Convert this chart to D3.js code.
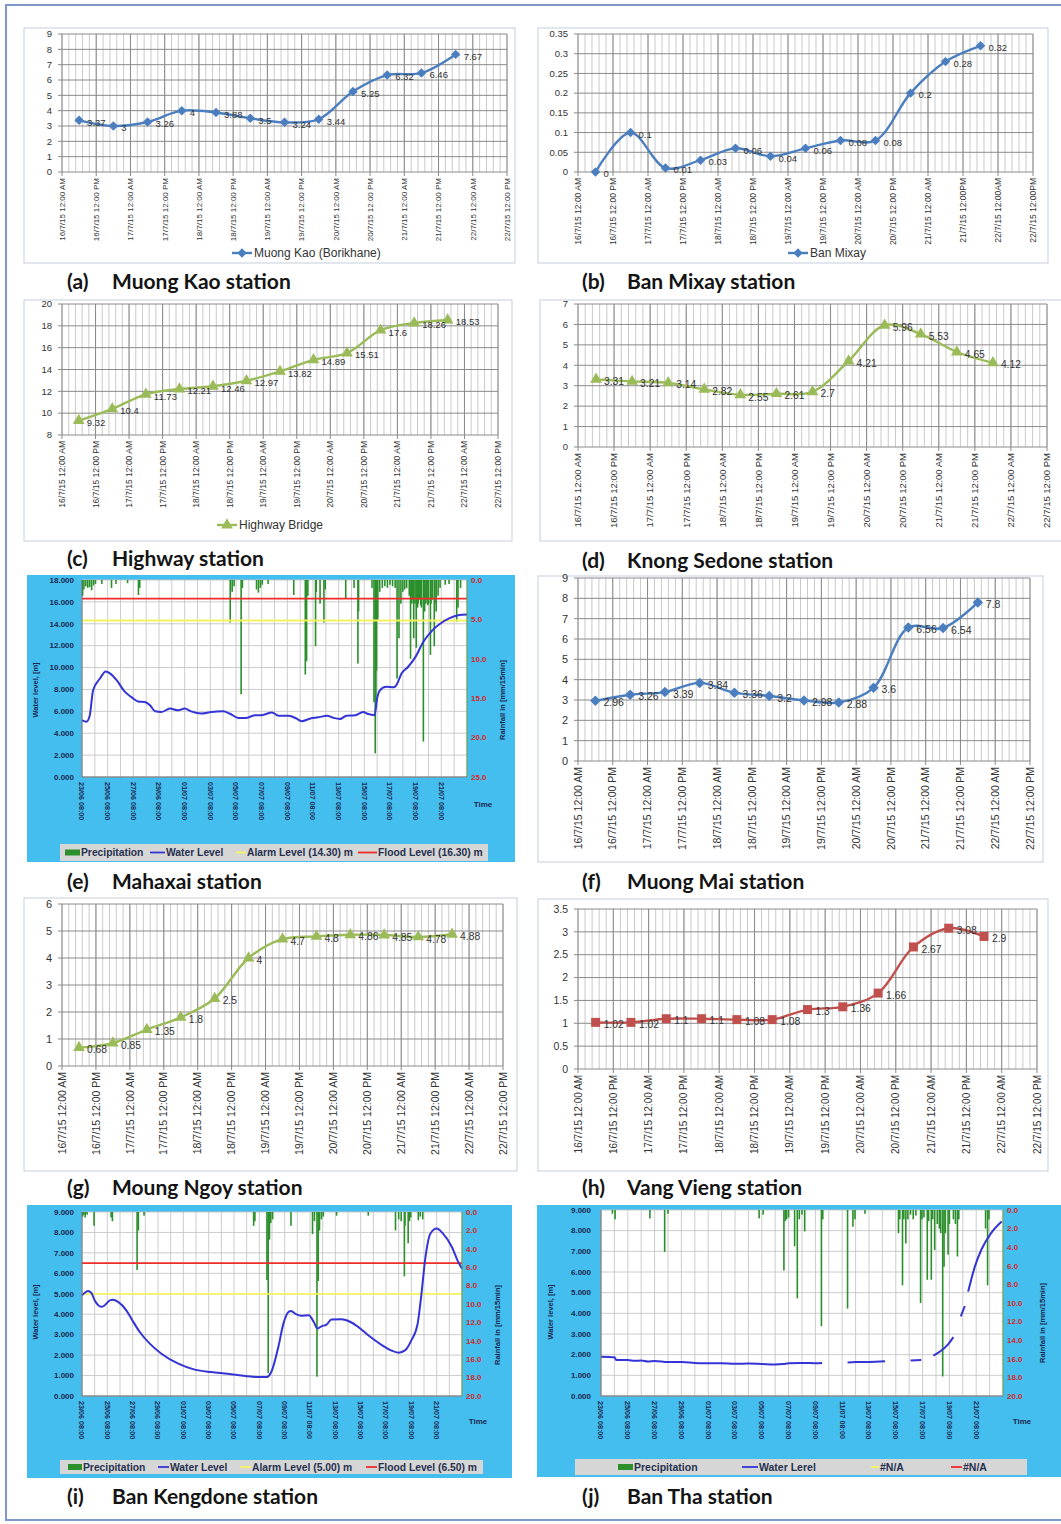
<!DOCTYPE html>
<html>
<head>
<meta charset="utf-8">
<script src="https://cdn.jsdelivr.net/npm/d3@7"></script>
<style>
  body { margin: 0; background: #fff; }
  text { font-family: "Liberation Sans", Arial, sans-serif; }
</style>
</head>
<body>
<div id="fig"></div>
<script>
// ---- time axis of the station charts (hours from 16/7/15 12:00 AM)
const tickHours = [0, 12, 24, 36, 48, 60, 72, 84, 96, 108, 120, 132, 144, 156];
const tickLabels = [
  "16/7/15 12:00 AM", "16/7/15 12:00 PM", "17/7/15 12:00 AM", "17/7/15 12:00 PM",
  "18/7/15 12:00 AM", "18/7/15 12:00 PM", "19/7/15 12:00 AM", "19/7/15 12:00 PM",
  "20/7/15 12:00 AM", "20/7/15 12:00 PM", "21/7/15 12:00 AM", "21/7/15 12:00 PM",
  "22/7/15 12:00 AM", "22/7/15 12:00 PM"
];
const tickLabelsB = [
  "16/7/15 12:00 AM", "16/7/15 12:00 PM", "17/7/15 12:00 AM", "17/7/15 12:00 PM",
  "18/7/15 12:00 AM", "18/7/15 12:00 PM", "19/7/15 12:00 AM", "19/7/15 12:00 PM",
  "20/7/15 12:00 AM", "20/7/15 12:00 PM", "21/7/15 12:00 AM", "21/7/15 12:00PM",
  "22/7/15 12:00AM", "22/7/15 12:00PM"
];
const obsHours = [6, 18, 30, 42, 54, 66, 78, 90, 102, 114, 126, 138];

// ---- water levels per station
const muongKao = [3.37, 3, 3.26, 4, 3.88, 3.5, 3.24, 3.44, 5.25, 6.32, 6.46, 7.67];
const banMixay = [0, 0.1, 0.01, 0.03, 0.06, 0.04, 0.06, 0.08, 0.08, 0.2, 0.28, 0.32];
const highway = [9.32, 10.4, 11.73, 12.21, 12.46, 12.97, 13.82, 14.89, 15.51, 17.6, 18.26, 18.53];
const knongSedone = [3.31, 3.21, 3.14, 2.82, 2.55, 2.61, 2.7, 4.21, 5.96, 5.53, 4.65, 4.12];
const muongMai = [2.96, 3.26, 3.39, 3.84, 3.36, 3.2, 2.98, 2.88, 3.6, 6.56, 6.54, 7.8];
const moungNgoy = [0.68, 0.85, 1.35, 1.8, 2.5, 4, 4.7, 4.8, 4.86, 4.85, 4.78, 4.88];
const vangVieng = [1.02, 1.02, 1.1, 1.1, 1.08, 1.08, 1.3, 1.36, 1.66, 2.67, 3.08, 2.9];

// ---- hydrograph time axis (days from 23/06 08:00)
const hydroTickDays = [0, 2, 4, 6, 8, 10, 12, 14, 16, 18, 20, 22, 24, 26, 28];
const hydroTickLabels = [
  "23/06 08:00", "25/06 08:00", "27/06 08:00", "29/06 08:00", "01/07 08:00",
  "03/07 08:00", "05/07 08:00", "07/07 08:00", "09/07 08:00", "11/07 08:00",
  "13/07 08:00", "15/07 08:00", "17/07 08:00", "19/07 08:00", "21/07 08:00"
];

// Mahaxai: [day, m] and rain [day, mm/15min]
const mahaxaiLevel = [
  [0, 5.2], [0.34, 5.05], [0.6, 5.6], [0.86, 7.9], [1.4, 9.0], [1.85, 9.65], [2.2, 9.45],
  [2.7, 8.85], [3.33, 7.8], [3.85, 7.3], [4.37, 6.9], [4.9, 6.85], [5.3, 6.55], [5.7, 6.0],
  [6.2, 5.95], [6.85, 6.25], [7.5, 6.1], [8.0, 6.25], [8.5, 6.0], [9.3, 5.8], [10.1, 5.95],
  [11, 6.0], [11.5, 5.8], [12.2, 5.4], [12.8, 5.4], [13.5, 5.65], [14, 5.65], [14.8, 5.9],
  [15.3, 5.6], [16.1, 5.6], [16.7, 5.35], [17.1, 5.1], [17.8, 5.35], [18.4, 5.45], [19.1, 5.6],
  [19.6, 5.4], [20.1, 5.3], [20.6, 5.6], [21.3, 5.65], [21.9, 5.95], [22.3, 5.75], [22.8, 5.65],
  [23.0, 7.2], [23.2, 7.9], [23.7, 8.25], [24.3, 8.2], [24.5, 8.4], [24.9, 9.45], [25.4, 10.05],
  [26, 11.0], [26.6, 12.35], [27.3, 13.4], [27.9, 14.0], [28.6, 14.5], [29.4, 14.8], [30, 14.85]
];
const mahaxaiRain = [
  [0.05, 2.0], [0.15, 1.2], [0.3, 0.8], [0.45, 1.0], [0.6, 0.9], [0.75, 1.3], [0.9, 0.7], [1.05, 0.5],
  [1.55, 0.5], [2.3, 1.0], [2.65, 0.5], [3.55, 0.4], [4.4, 1.9], [4.5, 1.0],
  [11.55, 5.4], [11.7, 1.5], [11.85, 0.8], [12.4, 14.5], [12.5, 1.0],
  [13.6, 1.2], [13.75, 1.6], [13.9, 1.0], [14.05, 0.6], [14.5, 0.5],
  [16.5, 1.9], [17.4, 12.0], [17.5, 10.3], [17.6, 2.0], [18.2, 8.4], [18.25, 1.5], [18.55, 3.0],
  [18.85, 5.4], [18.95, 1.2], [20.55, 2.3], [21.2, 1.0], [21.5, 10.6], [21.55, 4.0], [22.6, 1.0],
  [22.75, 15.5], [22.85, 22.0], [22.9, 16.0], [22.95, 11.5], [23.05, 5.0], [23.2, 1.5], [23.4, 1.0],
  [23.6, 0.8], [23.8, 1.0], [24.0, 0.6], [24.2, 0.8], [24.4, 1.0], [24.55, 12.5], [24.7, 7.4],
  [24.85, 3.0], [25.0, 1.5], [25.15, 1.2], [25.3, 1.0], [25.5, 2.0], [25.6, 10.0], [25.7, 3.0],
  [25.75, 2.5], [25.85, 7.4], [25.95, 3.0], [26.05, 8.6], [26.15, 3.5], [26.2, 3.0], [26.3, 2.5],
  [26.4, 3.2], [26.45, 3.5], [26.6, 20.5], [26.7, 4.0], [26.8, 3.0], [26.85, 2.5], [26.95, 3.2],
  [27.0, 3.0], [27.15, 9.5], [27.2, 3.0], [27.3, 2.5], [27.45, 8.4], [27.5, 3.0], [27.6, 4.0],
  [27.75, 2.0], [27.9, 1.0], [28.3, 0.6], [28.6, 0.5], [29.2, 5.3], [29.3, 3.5], [29.5, 1.0]
];

// Ban Kengdone
const kengdoneLevel = [
  [0, 4.93], [0.2, 5.04], [0.47, 5.14], [0.74, 5.04], [1.0, 4.68], [1.53, 4.36], [1.8, 4.44],
  [2.2, 4.68], [2.45, 4.71], [2.85, 4.6], [3.5, 4.19], [3.9, 3.78], [4.56, 3.13], [5.35, 2.56],
  [6.27, 2.07], [7.6, 1.58], [8.9, 1.29], [10.2, 1.17], [11.5, 1.09], [12.9, 0.98], [13.9, 0.93],
  [14.6, 0.93], [15.0, 1.26], [15.5, 2.4], [15.9, 3.54], [16.3, 4.11], [16.5, 4.16], [16.9, 4.0],
  [17.3, 3.92], [17.9, 3.95], [18.3, 3.62], [18.6, 3.3], [18.9, 3.41], [19.3, 3.49], [19.7, 3.74],
  [20.5, 3.75], [21.2, 3.62], [21.8, 3.38], [22.6, 2.97], [23.7, 2.48], [24.4, 2.23], [25.0, 2.12],
  [25.5, 2.23], [26.0, 2.72], [26.5, 3.54], [26.8, 5.0], [27.1, 6.72], [27.5, 7.94], [28.0, 8.19],
  [28.5, 7.94], [29.2, 7.29], [29.7, 6.56], [30, 6.23]
];
const kengdoneRain = [
  [0.05, 0.5], [0.15, 0.3], [0.25, 0.6], [0.4, 0.3], [0.95, 1.5], [2.3, 0.6], [2.4, 1.0],
  [4.35, 6.3], [4.45, 2.0], [4.9, 0.4], [13.55, 1.5], [13.65, 1.0], [14.6, 7.4], [14.7, 17.5],
  [14.8, 3.0], [14.9, 1.2], [15.05, 0.8], [16.5, 1.5], [18.2, 2.4], [18.35, 1.0], [18.55, 17.9],
  [18.65, 7.5], [18.75, 2.0], [18.9, 0.8], [19.05, 0.5], [20.1, 0.4], [22.6, 0.4],
  [24.75, 2.0], [25.0, 0.8], [25.2, 1.0], [25.45, 7.0], [25.5, 1.5], [25.75, 3.4], [25.85, 1.0],
  [25.95, 0.6], [26.55, 0.9], [26.7, 0.5], [26.9, 0.8]
];

// Ban Tha (null = missing record)
const banThaLevel = [
  [0, 1.9], [1.0, 1.87], [1.15, 1.74], [2, 1.74], [2.5, 1.7], [3, 1.72], [3.5, 1.67], [4, 1.69],
  [5, 1.64], [6, 1.64], [7, 1.6], [8, 1.58], [9, 1.59], [10, 1.56], [11, 1.57], [12, 1.55],
  [13, 1.53], [13.6, 1.55], [14, 1.58], [15, 1.6], [16, 1.59], [16.5, 1.6], null,
  [18.4, 1.62], [19, 1.65], [20, 1.65], [21.2, 1.68], null,
  [23.1, 1.72], [23.9, 1.74], null,
  [24.8, 1.95], [25.3, 2.15], [25.9, 2.5], [26.3, 2.85], null,
  [26.85, 3.85], [27.15, 4.35], null,
  [27.4, 5.05], [27.9, 6.26], [28.4, 7.1], [29.1, 7.87], [29.9, 8.44]
];
const banThaRain = [
  [0.85, 0.4], [1.05, 1.0], [3.65, 0.9], [4.75, 4.5], [5.0, 0.4], [11.8, 0.9], [12.1, 0.5],
  [13.65, 6.5], [13.75, 1.2], [13.85, 1.0], [14.0, 0.8], [14.45, 3.9], [14.65, 9.5], [14.8, 1.0],
  [15.0, 0.5], [15.2, 2.3], [16.45, 12.5], [16.55, 1.0], [18.4, 10.6], [18.8, 1.8], [18.95, 1.0],
  [19.7, 0.4], [22.2, 2.5], [22.3, 1.0], [22.5, 8.1], [22.6, 1.0], [22.75, 3.6], [22.9, 1.0],
  [23.1, 0.5], [23.3, 1.0], [23.5, 0.6], [23.85, 10.0], [23.95, 1.0], [24.1, 0.8], [24.35, 7.5],
  [24.45, 1.2], [24.65, 7.5], [24.75, 1.0], [24.9, 4.3], [25.1, 1.5], [25.25, 2.0], [25.35, 2.5],
  [25.5, 17.9], [25.6, 6.1], [25.7, 2.5], [25.9, 4.8], [26.0, 1.5], [26.3, 1.0], [26.45, 1.5],
  [26.6, 5.0], [26.7, 1.0], [28.7, 2.0], [28.85, 8.1], [28.95, 1.0]
];

const svg = d3.select("#fig").append("svg")
  .attr("width", 1061)
  .attr("height", 1524);

// outer frame of the figure
svg.append("rect")
  .attr("x", 6).attr("y", 5).attr("width", 1062).attr("height", 1515)
  .attr("fill", "none").attr("stroke", "#7d98c9").attr("stroke-width", 2);

const BLUE = "#4a7ebf", GREEN = "#9bbb59", RED = "#c0504d";
const TXT = "#333";

function marker(kind, size) {
  if (kind === "diamond") return d3.symbol(d3.symbolSquare, size * size * 0.55)();
  if (kind === "triangle") return d3.symbol(d3.symbolTriangle, size * size * 0.6)();
  return d3.symbol(d3.symbolSquare, size * size)();
}

function drawCaption(c) {
  const t = svg.append("text")
    .attr("x", c.x).attr("y", c.y)
    .style("font-family", "Lato, 'Open Sans', sans-serif")
    .style("font-weight", 700)
    .style("font-size", "21px")
    .attr("fill", "#141414");
  t.append("tspan").text(c.tag);
  t.append("tspan").attr("x", c.x + 45).text(c.title);
}

function drawExcel(p) {
  const g = svg.append("g");
  const [x0, x1, y0, y1] = p.plot;
  g.append("rect")
    .attr("x", p.frame[0]).attr("y", p.frame[1])
    .attr("width", p.frame[2] - p.frame[0]).attr("height", p.frame[3] - p.frame[1])
    .attr("fill", "#fff").attr("stroke", "#c5cddb");

  const x = d3.scaleLinear().domain([0, 156]).range([x0, x1]);
  const y = d3.scaleLinear().domain(p.yDomain).range([y1, y0]);

  // minor vertical grid, 5 per 12 h
  g.append("g").selectAll("line")
    .data(d3.range(0, 157, 2.4))
    .join("line")
    .attr("x1", d => x(d)).attr("x2", d => x(d))
    .attr("y1", y0).attr("y2", y1)
    .attr("stroke", "#bdbdbd").attr("stroke-width", 0.8);
  g.append("g").selectAll("line")
    .data(tickHours)
    .join("line")
    .attr("x1", d => x(d)).attr("x2", d => x(d))
    .attr("y1", y0).attr("y2", y1 + 4)
    .attr("stroke", "#8a8a8a").attr("stroke-width", 1);

  const yTicks = d3.range(p.yDomain[0], p.yDomain[1] + p.yStep / 2, p.yStep);
  g.append("g").selectAll("line")
    .data(yTicks)
    .join("line")
    .attr("x1", x0 - 4).attr("x2", x1)
    .attr("y1", d => y(d)).attr("y2", d => y(d))
    .attr("stroke", "#8a8a8a").attr("stroke-width", 1);

  g.append("g").selectAll("text")
    .data(yTicks)
    .join("text")
    .attr("x", x0 - 10).attr("y", d => y(d))
    .attr("dy", "0.35em")
    .attr("text-anchor", "end")
    .style("font-size", p.yFont + "px")
    .attr("fill", TXT)
    .text(d => +d.toFixed(2));

  // rotated time labels
  g.append("g").selectAll("text")
    .data(tickHours)
    .join("text")
    .attr("transform", d => `translate(${x(d)},${y1 + 6}) rotate(-90)`)
    .attr("dy", "0.35em")
    .attr("text-anchor", "end")
    .style("font-size", p.xFont + "px")
    .attr("fill", TXT)
    .text((d, i) => p.labels[i]);

  const pts = obsHours.map((h, i) => [h, p.values[i]]);
  const line = d3.line()
    .x(d => x(d[0])).y(d => y(d[1]))
    .curve(d3.curveCatmullRom.alpha(0.5));
  g.append("path")
    .datum(pts)
    .attr("d", line)
    .attr("fill", "none")
    .attr("stroke", p.color)
    .attr("stroke-width", 2.4);

  g.append("g").selectAll("path")
    .data(pts)
    .join("path")
    .attr("d", marker(p.marker, p.markerSize))
    .attr("transform", d => `translate(${x(d[0])},${y(d[1])})` + (p.marker === "diamond" ? " rotate(45)" : ""))
    .attr("fill", p.color);

  g.append("g").selectAll("text")
    .data(pts)
    .join("text")
    .attr("x", d => x(d[0]) + 8)
    .attr("y", d => y(d[1]) + 2)
    .attr("dy", "0.35em")
    .style("font-size", p.lblFont + "px")
    .attr("fill", TXT)
    .text(d => d[1]);

  if (p.legend) {
    const L = p.legend;
    g.append("line")
      .attr("x1", L.x).attr("x2", L.x + 20).attr("y1", L.y).attr("y2", L.y)
      .attr("stroke", p.color).attr("stroke-width", 2.4);
    g.append("path")
      .attr("d", marker(p.marker, p.markerSize))
      .attr("transform", `translate(${L.x + 10},${L.y})` + (p.marker === "diamond" ? " rotate(45)" : ""))
      .attr("fill", p.color);
    g.append("text")
      .attr("x", L.x + 22).attr("y", L.y).attr("dy", "0.35em")
      .style("font-size", L.size + "px")
      .attr("fill", TXT)
      .text(L.text);
  }
  drawCaption(p.caption);
}

function drawHydro(p) {
  const g = svg.append("g");
  const [x0, x1, y0, y1] = p.plot;
  g.append("rect")
    .attr("x", p.bg[0]).attr("y", p.bg[1])
    .attr("width", p.bg[2] - p.bg[0]).attr("height", p.bg[3] - p.bg[1])
    .attr("fill", "#43beee");
  g.append("rect")
    .attr("x", x0).attr("y", y0).attr("width", x1 - x0).attr("height", y1 - y0)
    .attr("fill", "#fff");

  const x = d3.scaleLinear().domain([0, 30]).range([x0, x1]);
  const yL = d3.scaleLinear().domain([0, p.wlMax]).range([y1, y0]);
  const yR = d3.scaleLinear().domain([0, p.rainMax]).range([y0, y1]);

  g.append("g").selectAll("line")
    .data(d3.range(0, 31))
    .join("line")
    .attr("x1", d => x(d)).attr("x2", d => x(d))
    .attr("y1", y0).attr("y2", y1)
    .attr("stroke", "#c6c6c6").attr("stroke-width", 0.9);
  const lt = d3.range(0, p.wlMax + 0.001, p.wlStep);
  g.append("g").selectAll("line")
    .data(lt)
    .join("line")
    .attr("x1", x0).attr("x2", x1)
    .attr("y1", d => yL(d)).attr("y2", d => yL(d))
    .attr("stroke", "#c6c6c6").attr("stroke-width", 0.9);

  g.append("g").selectAll("rect")
    .data(p.rain)
    .join("rect")
    .attr("x", d => x(d[0]) - 0.8)
    .attr("y", y0)
    .attr("width", 1.6)
    .attr("height", d => yR(d[1]) - y0)
    .attr("fill", "#2b8f2b");

  if (p.alarm != null) {
    g.append("line")
      .attr("x1", x0).attr("x2", x1).attr("y1", yL(p.alarm)).attr("y2", yL(p.alarm))
      .attr("stroke", "#f4f45e").attr("stroke-width", 1.8);
    g.append("line")
      .attr("x1", x0).attr("x2", x1).attr("y1", yL(p.flood)).attr("y2", yL(p.flood))
      .attr("stroke", "#ee2b2b").attr("stroke-width", 1.6);
  }

  const line = d3.line()
    .defined(d => d != null)
    .x(d => x(d[0])).y(d => yL(d[1]))
    .curve(d3.curveMonotoneX);
  g.append("path")
    .datum(p.level)
    .attr("d", line)
    .attr("fill", "none")
    .attr("stroke", "#3434d6")
    .attr("stroke-width", 2);

  // plot border
  g.append("line").attr("x1", x0).attr("x2", x0).attr("y1", y0).attr("y2", y1).attr("stroke", "#6f6f6f");
  g.append("line").attr("x1", x0).attr("x2", x1).attr("y1", y1).attr("y2", y1).attr("stroke", "#6f6f6f");
  g.append("line").attr("x1", x1).attr("x2", x1).attr("y1", y0).attr("y2", y1).attr("stroke", "#4c9a4c");

  const bold = (sel, s) => sel.style("font-weight", 700).style("font-size", s + "px");

  g.append("g").selectAll("text")
    .data(lt)
    .join("text")
    .attr("x", p.leftX).attr("y", d => yL(d)).attr("dy", "0.35em")
    .attr("text-anchor", "end")
    .attr("fill", "#1d2850")
    .call(bold, 8)
    .text(d => d3.format(".3f")(d));

  g.append("g").selectAll("text")
    .data(d3.range(0, p.rainMax + 0.001, p.rainStep))
    .join("text")
    .attr("x", p.rightX).attr("y", d => yR(d)).attr("dy", "0.35em")
    .attr("fill", "#d42a2a")
    .call(bold, 8)
    .text(d => d3.format(".1f")(d));

  g.append("g").selectAll("text")
    .data(hydroTickDays)
    .join("text")
    .attr("transform", d => `translate(${x(d)},${y1 + 5}) rotate(90)`)
    .attr("dy", "0.35em")
    .attr("fill", "#1d2850")
    .call(bold, 7.2)
    .text((d, i) => hydroTickLabels[i]);

  g.append("text")
    .attr("transform", `translate(${p.leftTitle[0]},${p.leftTitle[1]}) rotate(-90)`)
    .attr("text-anchor", "middle").attr("dy", "0.35em")
    .attr("fill", "#1d2850").call(bold, 7.5)
    .text("Water level, [m]");
  g.append("text")
    .attr("transform", `translate(${p.rightTitle[0]},${p.rightTitle[1]}) rotate(-90)`)
    .attr("text-anchor", "middle").attr("dy", "0.35em")
    .attr("fill", "#1d2850").call(bold, 7.5)
    .text("Rainfall in [mm/15min]");
  g.append("text")
    .attr("x", p.timeXY[0]).attr("y", p.timeXY[1])
    .attr("text-anchor", "middle")
    .attr("fill", "#1d2850").call(bold, 8)
    .text("Time");

  const lb = p.legendBand;
  g.append("rect")
    .attr("x", lb[0]).attr("y", lb[1]).attr("width", lb[2] - lb[0]).attr("height", lb[3] - lb[1])
    .attr("fill", "#d6d6d6");
  const cy = (lb[1] + lb[3]) / 2;
  p.legendItems.forEach(it => {
    if (it.kind === "rect") {
      g.append("rect").attr("x", it.x).attr("y", cy - 3).attr("width", it.w).attr("height", 6)
        .attr("fill", "#2b8f2b");
    } else {
      g.append("line").attr("x1", it.x).attr("x2", it.x + it.w).attr("y1", cy).attr("y2", cy)
        .attr("stroke", it.color).attr("stroke-width", 1.8);
    }
    g.append("text")
      .attr("x", it.x + it.w + 1).attr("y", cy).attr("dy", "0.35em")
      .style("font-weight", 700).style("font-size", p.legendFont + "px")
      .attr("fill", "#26304f")
      .text(it.text);
  });
  drawCaption(p.caption);
}

drawExcel({
  frame: [24, 28, 515, 263], plot: [62, 507, 34, 172], yDomain: [0, 9], yStep: 1,
  values: muongKao, labels: tickLabels, color: BLUE, marker: "diamond", markerSize: 9,
  xFont: 8, yFont: 9.5, lblFont: 9.5,
  legend: { text: "Muong Kao (Borikhane)", x: 232, y: 253, size: 12 },
  caption: { tag: "(a)", title: "Muong Kao station", x: 67, y: 289 }
});
drawExcel({
  frame: [538, 28, 1048, 263], plot: [578, 1033, 34, 172], yDomain: [0, 0.35], yStep: 0.05,
  values: banMixay, labels: tickLabelsB, color: BLUE, marker: "diamond", markerSize: 9,
  xFont: 8.5, yFont: 9.5, lblFont: 9.5,
  legend: { text: "Ban Mixay", x: 788, y: 253, size: 12 },
  caption: { tag: "(b)", title: "Ban Mixay station", x: 582, y: 289 }
});
drawExcel({
  frame: [24, 300, 512, 541], plot: [62, 498, 304, 435], yDomain: [8, 20], yStep: 2,
  values: highway, labels: tickLabels, color: GREEN, marker: "triangle", markerSize: 10,
  xFont: 8.5, yFont: 9.5, lblFont: 9.5,
  legend: { text: "Highway Bridge", x: 217, y: 525, size: 12 },
  caption: { tag: "(c)", title: "Highway station", x: 67, y: 566 }
});
drawExcel({
  frame: [540, 300, 1070, 541], plot: [578, 1047, 304, 447], yDomain: [0, 7], yStep: 1,
  values: knongSedone, labels: tickLabels, color: GREEN, marker: "triangle", markerSize: 10,
  xFont: 9.5, yFont: 9.5, lblFont: 10.3,
  caption: { tag: "(d)", title: "Knong Sedone station", x: 582, y: 568 }
});
drawExcel({
  frame: [538, 576, 1043, 862], plot: [578, 1030, 578, 761], yDomain: [0, 9], yStep: 1,
  values: muongMai, labels: tickLabels, color: BLUE, marker: "diamond", markerSize: 10,
  xFont: 10.5, yFont: 11, lblFont: 10.5,
  caption: { tag: "(f)", title: "Muong Mai station", x: 582, y: 889 }
});
drawExcel({
  frame: [24, 898, 517, 1171], plot: [62, 503, 904, 1066], yDomain: [0, 6], yStep: 1,
  values: moungNgoy, labels: tickLabels, color: GREEN, marker: "triangle", markerSize: 10,
  xFont: 10.5, yFont: 11, lblFont: 10.3,
  caption: { tag: "(g)", title: "Moung Ngoy station", x: 67, y: 1195 }
});
drawExcel({
  frame: [538, 899, 1048, 1171], plot: [578, 1037, 909, 1069], yDomain: [0, 3.5], yStep: 0.5,
  values: vangVieng, labels: tickLabels, color: RED, marker: "square", markerSize: 9,
  xFont: 10, yFont: 10.5, lblFont: 10.3,
  caption: { tag: "(h)", title: "Vang Vieng station", x: 582, y: 1195 }
});

drawHydro({
  bg: [27, 575, 515, 862], plot: [82, 467, 580, 777],
  wlMax: 18, wlStep: 2, rainMax: 25, rainStep: 5, alarm: 14.3, flood: 16.3,
  level: mahaxaiLevel, rain: mahaxaiRain,
  leftX: 74, rightX: 471, leftTitle: [35, 690], rightTitle: [502, 700], timeXY: [483, 807],
  legendBand: [60, 844, 488, 861], legendFont: 10.3,
  legendItems: [
    { kind: "rect", x: 65, w: 15, text: "Precipitation" },
    { kind: "line", x: 150, w: 15, color: "#3434d6", text: "Water Level" },
    { kind: "line", x: 236, w: 10, color: "#f4f45e", text: "Alarm Level (14.30) m" },
    { kind: "line", x: 358, w: 19, color: "#ee2b2b", text: "Flood Level (16.30) m" }
  ],
  caption: { tag: "(e)", title: "Mahaxai station", x: 67, y: 889 }
});
drawHydro({
  bg: [27, 1205, 512, 1478], plot: [82, 462, 1212, 1396],
  wlMax: 9, wlStep: 1, rainMax: 20, rainStep: 2, alarm: 5.0, flood: 6.5,
  level: kengdoneLevel, rain: kengdoneRain,
  leftX: 74, rightX: 466, leftTitle: [35, 1312], rightTitle: [497, 1325], timeXY: [478, 1424],
  legendBand: [60, 1460, 483, 1474], legendFont: 10.3,
  legendItems: [
    { kind: "rect", x: 68, w: 14, text: "Precipitation" },
    { kind: "line", x: 158, w: 11, color: "#3434d6", text: "Water Level" },
    { kind: "line", x: 240, w: 11, color: "#f4f45e", text: "Alarm Level (5.00) m" },
    { kind: "line", x: 366, w: 11, color: "#ee2b2b", text: "Flood Level (6.50) m" }
  ],
  caption: { tag: "(i)", title: "Ban Kengdone station", x: 67, y: 1504 }
});
drawHydro({
  bg: [537, 1205, 1061, 1477], plot: [601, 1003, 1210, 1396],
  wlMax: 9, wlStep: 1, rainMax: 20, rainStep: 2, alarm: null,
  level: banThaLevel, rain: banThaRain,
  leftX: 591, rightX: 1007, leftTitle: [550, 1312], rightTitle: [1042, 1323], timeXY: [1022, 1424],
  legendBand: [575, 1459, 1027, 1475], legendFont: 10.5,
  legendItems: [
    { kind: "rect", x: 618, w: 15, text: "Precipitation" },
    { kind: "line", x: 742, w: 16, color: "#3434d6", text: "Water Lerel" },
    { kind: "line", x: 871, w: 8, color: "#f4f45e", text: "#N/A" },
    { kind: "line", x: 951, w: 11, color: "#ee2b2b", text: "#N/A" }
  ],
  caption: { tag: "(j)", title: "Ban Tha station", x: 582, y: 1504 }
});
</script>
</body>
</html>
